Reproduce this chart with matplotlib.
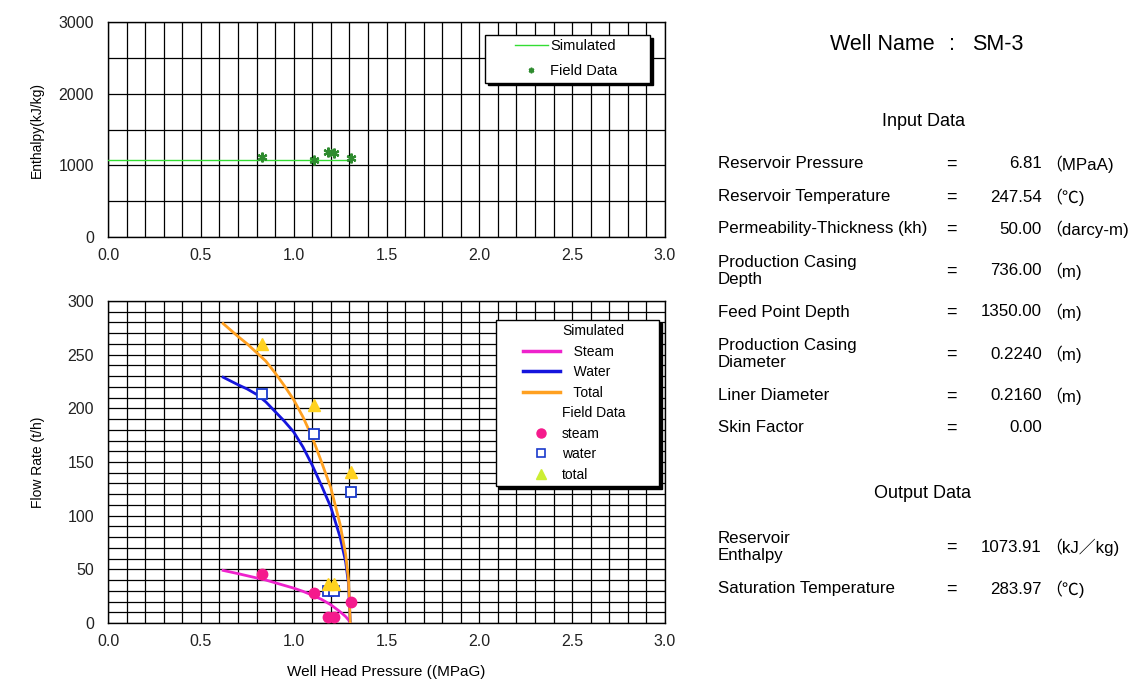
import matplotlib
matplotlib.use('Agg')
import matplotlib.pyplot as plt
from matplotlib.lines import Line2D
from matplotlib.legend_handler import HandlerLine2D
from matplotlib.ticker import MultipleLocator

plt.rcParams['font.family'] = ['Liberation Sans', 'Noto Sans CJK JP', 'DejaVu Sans']

# simulated deliverability curve
whp_sim = [0.62, 0.70, 0.75, 0.80, 0.85, 0.90, 0.95, 1.00, 1.05, 1.10, 1.15, 1.20,
           1.25, 1.28, 1.295, 1.305]
steam_sim = [49, 46, 44, 42, 40, 37.5, 35, 32.5, 29.5, 26, 22, 17, 10.5, 6, 3, 0]
water_sim = [229, 222, 218, 213, 206, 197, 188, 178, 164, 147, 128, 108, 80, 57, 37, 0]
total_sim = [279, 267, 260, 252, 244, 233, 221, 208, 192, 173, 150, 126, 92, 64, 41, 0]

# simulated enthalpy
whp_h_sim = [0.0, 1.305]
enth_sim = [1073.91, 1073.91]

# field data
whp_field = [0.83, 1.11, 1.185, 1.215, 1.31]
steam_field = [46, 28, 6, 6, 20]
water_field = [213, 176, 30, 30, 122]
total_field = [260, 203, 36, 36, 141]
enth_field = [1110, 1080, 1190, 1170, 1105]

# right hand table
input_rows = [
    ('Reservoir Pressure', '6.81', '（MPaA)'),
    ('Reservoir Temperature', '247.54', '（℃)'),
    ('Permeability-Thickness (kh)', '50.00', '（darcy-m)'),
    ('Production Casing\nDepth', '736.00', '（m)'),
    ('Feed Point Depth', '1350.00', '（m)'),
    ('Production Casing\nDiameter', '0.2240', '（m)'),
    ('Liner Diameter', '0.2160', '（m)'),
    ('Skin Factor', '0.00', ''),
]
input_y = [164, 197, 229, 271, 312, 354, 396, 428]
output_rows = [
    ('Reservoir\nEnthalpy', '1073.91', '（kJ／kg)'),
    ('Saturation Temperature', '283.97', '（℃)'),
]
output_y = [547, 589]

W, H = 1136, 684


def grid_axes(ax, xstep, ystep, ymax, ymajor):
    ax.set_xlim(0, 3.0)
    ax.set_ylim(0, ymax)
    ax.xaxis.set_major_locator(MultipleLocator(0.5))
    ax.xaxis.set_minor_locator(MultipleLocator(xstep))
    ax.yaxis.set_major_locator(MultipleLocator(ymajor))
    ax.yaxis.set_minor_locator(MultipleLocator(ystep))
    ax.xaxis.set_major_formatter('{x:.1f}')
    ax.yaxis.set_major_formatter('{x:.0f}')
    ax.grid(which='both', color='black', linewidth=0.9)
    ax.set_axisbelow(True)
    ax.tick_params(which='both', length=0, labelsize=11.5, colors='#222222')
    ax.tick_params(axis='x', pad=8)
    ax.tick_params(axis='y', pad=10)
    for s in ax.spines.values():
        s.set_color('black')
        s.set_linewidth(1.0)


def boxed_legend(ax, handles, labels, x0, top, width, fs, hlen, xpad, ls):
    # excel style legend: handle inset from the left edge, black drop shadow
    hmap = {h: HandlerLine2D(xpad=xpad) for h in handles}
    leg = ax.legend(handles, labels, loc='upper left', bbox_to_anchor=(x0, 0, width, top),
                    mode='expand', fontsize=fs, frameon=True, fancybox=False,
                    edgecolor='black', framealpha=1, shadow={'color': 'black', 'alpha': 1},
                    borderaxespad=0, borderpad=0.3, handlelength=hlen, handletextpad=0.15,
                    labelspacing=ls, handler_map=hmap)
    leg.get_frame().set_linewidth(1.0)
    return leg


fig = plt.figure(figsize=(W / 100, H / 100), dpi=100)

# enthalpy chart
ax1 = fig.add_axes([108 / W, 1 - 237 / H, 557 / W, 215 / H])
grid_axes(ax1, 0.1, 500, 3000, 1000)
ax1.plot(whp_h_sim, enth_sim, color='#33dd33', linewidth=1.0, zorder=3)
ax1.plot(whp_field, enth_field, linestyle='none', marker=(6, 2, 0), markersize=7,
         markeredgewidth=1.6, color='#2e8b2e', zorder=4)
ax1.set_ylabel('Enthalpy(kJ/kg)', fontsize=10)
ax1.yaxis.set_label_coords(-0.115, 0.5)
h1 = [Line2D([], [], color='#33dd33', linewidth=1.0),
      Line2D([], [], linestyle='none', marker=(6, 2, 0), markersize=4,
             markeredgewidth=1.2, color='#2e8b2e')]
boxed_legend(ax1, h1, ['Simulated', 'Field Data'], 0.677, 0.94, 0.296,
             fs=10.5, hlen=4.0, xpad=1.75, ls=0.75)

# flow rate chart
ax2 = fig.add_axes([108 / W, 1 - 623 / H, 557 / W, 322 / H])
grid_axes(ax2, 0.1, 10, 300, 50)
ax2.plot(whp_sim, steam_sim, color='#ee22cc', linewidth=2.0, zorder=3)
ax2.plot(whp_sim, water_sim, color='#1515dd', linewidth=2.0, zorder=3)
ax2.plot(whp_sim, total_sim, color='#ffa020', linewidth=2.0, zorder=3)
ax2.plot(whp_field, steam_field, linestyle='none', marker='o', markersize=7.5,
         color='#f51a8c', zorder=4)
ax2.plot(whp_field, water_field, linestyle='none', marker='s', markersize=6.5,
         markerfacecolor='white', markeredgecolor='#1a3acc', markeredgewidth=1.3, zorder=4)
ax2.plot(whp_field, total_field, linestyle='none', marker='^', markersize=8,
         color='#ffd21f', zorder=4)
ax2.set_ylabel('Flow Rate (t/h)', fontsize=10)
ax2.yaxis.set_label_coords(-0.114, 0.5)
ax2.set_xlabel('Well Head Pressure ((MPaG)', fontsize=11)
ax2.xaxis.set_label_coords(0.5, -0.13)

blank = Line2D([], [], linestyle='none')
h2 = [
    blank,
    Line2D([], [], color='#ee22cc', linewidth=2.5),
    Line2D([], [], color='#1515dd', linewidth=2.5),
    Line2D([], [], color='#ffa020', linewidth=2.5),
    Line2D([], [], linestyle='none'),
    Line2D([], [], linestyle='none', marker='o', markersize=6.5, color='#f51a8c'),
    Line2D([], [], linestyle='none', marker='s', markersize=5.5, markerfacecolor='white',
           markeredgecolor='#1a3acc', markeredgewidth=1.2),
    Line2D([], [], linestyle='none', marker='^', markersize=7, color='#ccee33'),
]
labels2 = ['Simulated', '   Steam', '   Water', '   Total', 'Field Data', 'steam', 'water', 'total']
boxed_legend(ax2, h2, labels2, 0.6966, 0.941, 0.2926,
             fs=10, hlen=4.3, xpad=1.64, ls=0.47)

# text panel
fig.text(935 / W, 1 - 45 / H, 'Well Name', fontsize=15.5, ha='right', va='center')
fig.text(952 / W, 1 - 45 / H, ':', fontsize=15.5, ha='center', va='center')
fig.text(972 / W, 1 - 45 / H, 'SM-3', fontsize=15.5, ha='left', va='center')
fig.text(924 / W, 1 - 121 / H, 'Input Data', fontsize=13, ha='center', va='center')
fig.text(923 / W, 1 - 493 / H, 'Output Data', fontsize=13, ha='center', va='center')


def table_rows(rows, ys):
    for (name, val, unit), y in zip(rows, ys):
        yy = 1 - y / H
        fig.text(718 / W, yy, name, fontsize=12.2, ha='left', va='center', linespacing=1.15)
        fig.text(951 / W, yy, '=', fontsize=13, ha='center', va='center')
        fig.text(1042 / W, yy, val, fontsize=12.2, ha='right', va='center')
        if unit:
            fig.text(1045 / W, yy, unit, fontsize=12.2, ha='left', va='center')


table_rows(input_rows, input_y)
table_rows(output_rows, output_y)

fig.savefig('out.png', dpi=100)
